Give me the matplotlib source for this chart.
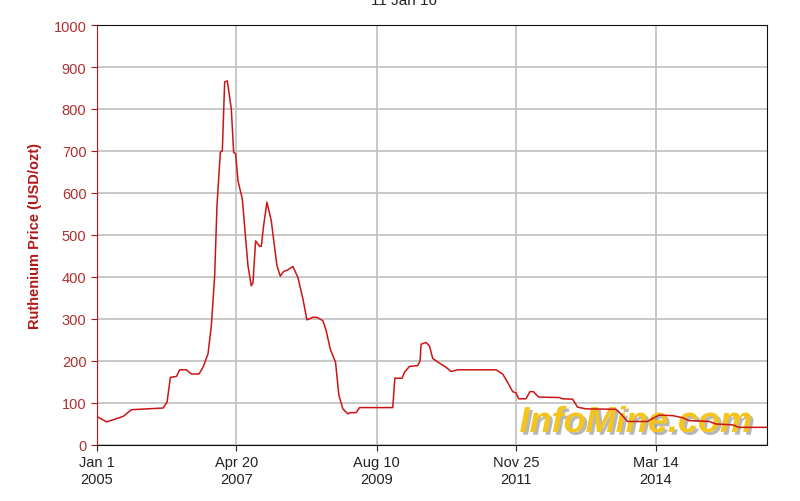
import matplotlib
matplotlib.use("Agg")
import matplotlib.pyplot as plt
import matplotlib.patheffects as pe
import pandas as pd

dates = ["2005-01-01", "2005-02-28", "2005-04-09", "2005-06-08", "2005-07-28",
         "2006-02-03", "2006-02-27", "2006-03-19", "2006-04-24", "2006-05-14",
         "2006-06-23", "2006-07-23", "2006-09-07", "2006-10-01", "2006-10-31",
         "2006-11-20", "2006-12-10", "2006-12-24", "2007-01-13", "2007-01-25",
         "2007-02-08", "2007-02-24", "2007-03-20", "2007-04-03", "2007-04-15",
         "2007-04-29", "2007-05-25", "2007-06-28", "2007-07-18", "2007-07-28",
         "2007-08-13", "2007-09-06", "2007-09-16", "2007-09-30", "2007-10-20",
         "2007-11-15", "2007-12-19", "2008-01-08", "2008-01-28", "2008-02-23",
         "2008-03-24", "2008-04-23", "2008-05-23", "2008-06-16", "2008-07-22",
         "2008-08-15", "2008-09-20", "2008-10-10", "2008-11-03", "2008-12-05",
         "2008-12-25", "2009-01-18", "2009-02-17", "2009-03-03", "2009-04-08",
         "2009-04-28", "2009-11-14", "2009-11-26", "2010-01-09", "2010-01-23",
         "2010-02-22", "2010-04-13", "2010-04-27", "2010-05-03", "2010-06-02",
         "2010-06-22", "2010-07-12", "2010-08-21", "2010-09-30", "2010-10-30",
         "2010-12-09", "2011-07-27", "2011-09-05", "2011-10-05", "2011-11-04",
         "2011-11-24", "2011-12-10", "2012-01-23", "2012-02-16", "2012-03-07",
         "2012-04-08", "2012-08-10", "2012-08-30", "2012-10-29", "2012-11-28",
         "2013-01-17", "2013-07-16", "2013-08-15", "2013-09-24", "2014-01-22",
         "2014-02-21", "2014-04-02", "2014-06-21", "2014-08-20", "2014-09-29",
         "2015-01-27", "2015-03-08", "2015-06-16", "2015-07-26", "2016-01-11"]
prices = [68, 55, 60, 68, 84,
          88, 102, 161, 163, 179,
          179, 169, 169, 185, 217,
          284, 403, 570, 697, 700,
          864, 867, 800, 697, 693,
          629, 586, 427, 379, 386,
          486, 473, 473, 522, 578,
          534, 427, 402, 413, 417,
          425, 399, 348, 298, 304,
          304, 296, 272, 229, 197,
          119, 86, 74, 77, 77,
          89, 89, 159, 159, 173,
          187, 189, 201, 240, 244,
          236, 206, 195, 185, 175,
          179, 179, 169, 149, 127,
          124, 110, 110, 127, 127,
          114, 113, 110, 109, 90,
          86, 85, 74, 56, 56,
          63, 71, 70, 65, 58,
          56, 50, 48, 42, 42]

tick_dates = ["2005-01-01", "2007-04-20", "2009-08-10", "2011-11-25", "2014-03-14"]
tick_labels = ["Jan 1\n2005", "Apr 20\n2007", "Aug 10\n2009", "Nov 25\n2011", "Mar 14\n2014"]

plt.rcParams['font.family'] = ['Liberation Sans', 'DejaVu Sans']

dark_red = '#b01818'

fig = plt.figure(figsize=(8, 5.02), dpi=100)
ax = fig.add_axes([0.121, 0.1116, 0.838, 0.8366])

ax.plot(pd.to_datetime(dates), prices, color='#cc1414', linewidth=1.1, zorder=3)

ax.set_xlim(pd.Timestamp("2005-01-01"), pd.Timestamp("2016-01-11"))
ax.set_ylim(0, 1000)
ax.set_yticks(range(0, 1001, 100))
ax.set_xticks(pd.to_datetime(tick_dates))
ax.set_xticklabels(tick_labels)

ax.grid(True, color='#c4c4c4', linewidth=1.3)
ax.set_axisbelow(True)

ax.tick_params(axis='y', colors=dark_red, labelsize=10.5, length=4)
ax.tick_params(axis='x', colors='#222222', labelsize=10.5, length=4)
for lbl in ax.get_yticklabels():
    lbl.set_color('#b03030')

ax.spines['left'].set_color(dark_red)
for s in ['top', 'right', 'bottom']:
    ax.spines[s].set_color('#111111')

ax.set_ylabel('Ruthenium Price (USD/ozt)', color=dark_red, fontweight='bold',
              fontsize=10.5, labelpad=8)

fig.text(0.505, 0.998, '11 Jan 16', ha='center', va='center', fontsize=11, color='#222222')

# watermark
ax.text(0.978, 0.012, 'InfoMine.com', transform=ax.transAxes, ha='right', va='bottom',
        fontsize=26, fontweight='bold', style='italic', color='#f5c51c', zorder=2,
        path_effects=[pe.withSimplePatchShadow(offset=(2, -2), shadow_rgbFace='#888888', alpha=0.6)])

fig.savefig('out.png', dpi=100)
